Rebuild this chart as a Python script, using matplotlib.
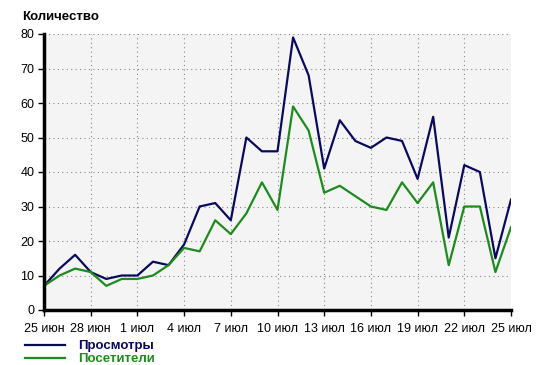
import matplotlib
matplotlib.use("Agg")
import matplotlib.pyplot as plt
import numpy as np

plt.rcParams['font.family'] = ['Liberation Sans', 'DejaVu Sans']

days = list(range(31))  # 25 Jun .. 25 Jul
tick_labels = ["25 июн", "28 июн", "1 июл", "4 июл", "7 июл", "10 июл",
               "13 июл", "16 июл", "19 июл", "22 июл", "25 июл"]
views = [7, 12, 16, 11, 9, 10, 10, 14, 13, 19, 30, 31, 26, 50, 46, 46,
         79, 68, 41, 55, 49, 47, 50, 49, 38, 56, 21, 42, 40, 15, 32]
visitors = [7, 10, 12, 11, 7, 9, 9, 10, 13, 18, 17, 26, 22, 28, 37, 29,
            59, 52, 34, 36, 33, 30, 29, 37, 31, 37, 13, 30, 30, 11, 24]

navy = "#0a0a5c"
green = "#1f8a1f"

fig = plt.figure(figsize=(5.38, 3.65), dpi=100)
ax = fig.add_axes([44/538, 1 - 310/365, (511-44)/538, (310-34)/365])
ax.set_facecolor("#f4f4f4")

l1, = ax.plot(days, views, color=navy, lw=1.6, label="Просмотры")
l2, = ax.plot(days, visitors, color=green, lw=1.6, label="Посетители")

ax.set_xlim(0, 30)
ax.set_ylim(0, 80)
ax.set_xticks(days[::3])
ax.set_xticklabels(tick_labels)
ax.set_yticks(range(0, 81, 10))
ax.grid(True, color="#888888", linestyle=(0, (1, 3)), linewidth=0.8)
ax.set_axisbelow(True)
for s in ["top", "right"]:
    ax.spines[s].set_visible(False)
for s in ["left", "bottom"]:
    ax.spines[s].set_linewidth(2.5)
    ax.spines[s].set_color("black")
ax.tick_params(axis='both', length=4, width=1, labelsize=9, colors="black", pad=3)
ax.tick_params(axis='x', pad=5)

fig.text(22/538, 1 - 17/365, "Количество", fontsize=9.5, fontweight="bold", va="center", ha="left")

leg = fig.legend(handles=[l1, l2], loc="upper left", bbox_to_anchor=(25/538, 1 - 340/365),
                 frameon=False, prop={'weight': 'bold', 'size': 9.5}, handlelength=3.0,
                 handletextpad=1.0, labelspacing=0.05, borderaxespad=0, borderpad=0,
                 labelcolor='linecolor')

fig.savefig("out.png", dpi=100)
